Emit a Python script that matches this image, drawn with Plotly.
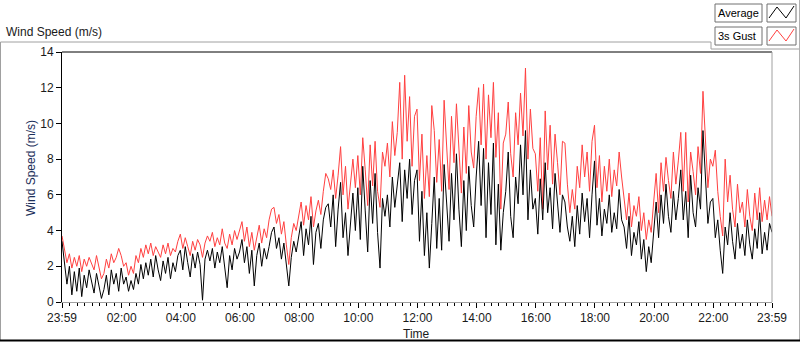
import pandas as pd
import plotly.graph_objects as go

# ---- data (5-minute readings, one row per hour) ----
avg_speed = [
    3.4, 2.3, 1.0, 2.0, 0.4, 1.7, 0.6, 1.9, 0.3, 1.5, 0.8, 1.8,
    1.2, 0.5, 1.6, 0.9, 0.2, 0.7, 1.5, 0.4, 1.8, 1.0, 1.6, 0.6,
    1.9, 1.0, 1.4, 0.6, 1.2, 0.7, 1.6, 1.0, 2.1, 1.3, 2.2, 1.5,
    2.4, 1.4, 2.6, 1.8, 1.2, 2.3, 1.6, 2.5, 1.3, 2.2, 1.7, 2.6,
    2.9, 1.8, 3.1, 2.2, 1.4, 2.7, 1.9, 2.8, 2.1, 0.1, 2.4, 2.9,
    2.3, 3.0, 1.9, 2.8, 2.2, 3.1, 2.0, 0.8, 2.6, 1.8, 3.0, 2.4,
    2.8, 3.5, 2.2, 3.1, 1.6, 2.9, 0.9, 2.6, 3.3, 2.0, 3.0, 2.4,
    3.1, 3.9, 4.2, 3.0, 3.6, 2.4, 3.3, 2.0, 0.9, 2.5, 3.4, 2.8,
    3.6, 4.5, 2.6, 4.1, 3.2, 4.8, 2.1, 3.9, 4.4, 3.0, 4.6, 5.3,
    5.5, 4.2, 6.0, 3.1, 5.2, 6.7, 3.6, 5.0, 2.6, 4.6, 6.1, 4.0,
    6.4, 3.5, 7.6, 5.1, 2.8, 6.8, 4.4, 7.2, 3.9, 1.9, 5.8, 4.8,
    6.0, 4.2, 7.0, 5.3, 6.6, 7.8, 4.5, 7.4, 5.8, 8.0, 4.9, 6.8,
    7.4, 3.4, 6.2, 2.6, 5.0, 1.9, 4.4, 7.0, 3.0, 5.8, 2.9, 7.7,
    5.6, 3.4, 7.2, 4.6, 8.3, 5.2, 3.1, 6.8, 4.0, 7.6, 5.4, 4.2,
    7.0, 9.0, 5.4, 8.6, 3.6, 7.8, 4.9, 8.9, 3.2, 6.6, 2.9, 5.0,
    6.2, 8.4, 4.8, 3.6, 7.0, 5.5, 8.8, 6.0, 9.6, 4.6, 7.4, 5.2,
    5.8, 3.8, 6.9, 4.6, 7.8, 5.0, 6.4, 4.1, 7.2, 5.4, 3.9, 6.0,
    5.6, 4.2, 3.4, 4.8, 3.1, 5.4, 3.8, 6.1, 4.5, 5.8, 3.6, 6.0,
    7.9, 4.3, 5.8, 3.7, 5.2, 4.4, 6.0, 3.9, 5.0, 4.1, 6.3, 4.6,
    4.2, 3.0, 4.8, 2.6, 3.9, 3.2, 4.5, 2.4, 3.5, 1.7, 3.1, 2.2,
    4.0, 5.6, 3.6, 6.0, 4.4, 6.6, 4.8, 3.9, 6.2, 4.6, 5.8, 7.4,
    4.6, 6.2, 3.6, 7.1, 5.0, 4.2, 6.4, 5.2, 9.6, 6.8, 4.4, 5.6,
    5.8, 3.6, 4.6, 2.9, 1.6, 4.2, 3.2, 5.0, 3.4, 2.4, 4.4, 3.0,
    3.8, 2.6, 4.6, 3.2, 2.4, 4.1, 3.0, 5.0, 2.7, 3.9, 2.9, 4.4,
    3.9,
]

gust_speed = [
    3.7, 2.9, 2.2, 2.7, 1.9, 2.5, 2.0, 2.6, 1.7, 2.4, 2.0, 2.5,
    2.2, 1.8, 2.6, 2.0, 1.3, 1.6, 2.4, 1.9, 2.7, 2.2, 2.5, 3.0,
    2.6, 2.0, 2.2, 1.5, 2.0, 1.6, 2.6, 2.2, 3.0, 2.5, 3.2, 2.7,
    3.3, 2.6, 3.1, 2.8, 2.5, 3.2, 2.7, 3.3, 2.6, 3.0, 2.8, 3.4,
    3.8, 3.0, 3.6, 3.1, 2.6, 3.4, 2.9, 3.5, 3.2, 2.5, 3.3, 3.7,
    3.4, 3.9, 3.1, 3.6, 3.2, 4.1, 3.3, 3.0, 3.8, 3.2, 4.0, 3.5,
    4.0, 4.5, 3.4, 4.2, 3.1, 3.9, 2.9, 3.7, 4.3, 3.3, 4.1, 3.6,
    4.6, 5.2, 5.3, 4.4, 4.9, 3.8, 4.5, 3.2, 2.1, 3.6, 4.4, 4.0,
    4.8, 5.6, 4.3, 5.4, 4.6, 5.9, 4.2, 5.1, 5.7, 4.9, 6.2, 7.2,
    6.9, 6.3, 7.4, 5.8, 7.1, 8.7, 6.0, 7.6, 5.2, 6.8, 8.0, 6.4,
    8.2, 6.0, 9.2, 7.4, 5.4, 8.8, 6.5, 9.0, 6.2, 5.3, 8.4, 7.6,
    8.9, 7.0, 10.1, 8.2, 9.5, 12.3, 8.0, 12.7, 9.0, 11.5, 7.6, 10.4,
    10.8, 6.8, 9.4, 5.8, 8.2, 5.9, 11.0, 9.6, 6.7, 9.1, 6.2, 11.3,
    8.6, 6.3, 10.4, 7.8, 11.1, 8.5, 6.1, 9.8, 7.2, 11.0, 8.4, 7.5,
    10.4, 12.0, 8.8, 12.2, 8.0, 11.6, 9.2, 12.3, 8.1, 10.6, 5.2, 8.9,
    9.4, 11.2, 8.3, 7.0, 10.6, 8.8, 11.7, 9.3, 13.1, 8.0, 10.8, 8.6,
    8.3, 6.2, 9.2, 5.2, 10.7, 7.4, 9.9, 6.6, 9.4, 7.8, 6.0, 9.0,
    8.9, 6.6, 5.0, 6.3, 5.2, 7.6, 6.4, 8.8, 7.0, 8.4, 6.2, 9.0,
    9.9, 6.4, 8.2, 5.6, 7.6, 6.2, 8.0, 5.9, 7.4, 6.5, 8.4, 7.0,
    5.8, 4.6, 6.1, 4.2, 5.4, 4.8, 5.9, 4.0, 5.0, 3.5, 4.6, 3.9,
    5.6, 7.2, 5.0, 7.8, 6.2, 8.1, 6.8, 5.8, 8.4, 6.6, 7.9, 9.5,
    6.2, 9.5, 5.6, 8.4, 7.3, 6.0, 8.7, 7.2, 11.8, 9.2, 6.4, 8.0,
    7.6, 8.5, 6.2, 4.8, 3.7, 8.0, 5.6, 7.1, 5.2, 4.2, 6.6, 5.0,
    5.6, 4.2, 6.3, 4.8, 4.0, 6.1, 4.6, 6.4, 4.5, 5.7, 4.6, 5.9,
    4.8,
]

start_time = "2024-01-01 23:59"
end_time = "2024-01-02 23:59"
tick_times = [
    "2024-01-01 23:59", "2024-01-02 02:00", "2024-01-02 04:00", "2024-01-02 06:00",
    "2024-01-02 08:00", "2024-01-02 10:00", "2024-01-02 12:00", "2024-01-02 14:00",
    "2024-01-02 16:00", "2024-01-02 18:00", "2024-01-02 20:00", "2024-01-02 22:00",
    "2024-01-02 23:59",
]
tick_labels = ["23:59", "02:00", "04:00", "06:00", "08:00", "10:00", "12:00",
               "14:00", "16:00", "18:00", "20:00", "22:00", "23:59"]
series_names = ["Average", "3s Gust"]
series_colors = ["#000000", "#ff4040"]

times = pd.date_range(start_time, periods=len(avg_speed), freq="5min")

W, H = 800, 342
def px(x):
    return x / W
def py(y):
    return 1 - y / H

FONT = "Liberation Sans"
TXT = "#1a1a1a"

fig = go.Figure()
fig.add_trace(go.Scatter(x=times, y=gust_speed, mode="lines", name=series_names[1],
                         line=dict(color=series_colors[1], width=1), showlegend=False))
fig.add_trace(go.Scatter(x=times, y=avg_speed, mode="lines", name=series_names[0],
                         line=dict(color=series_colors[0], width=1), showlegend=False))

fig.update_layout(
    width=W, height=H,
    margin=dict(l=0, r=0, t=0, b=0, autoexpand=False),
    paper_bgcolor="white", plot_bgcolor="white",
    font=dict(family=FONT, size=12, color=TXT),
    xaxis=dict(
        type="date", range=[start_time, end_time], automargin=False,
        domain=[px(62), px(772)],
        tickmode="array", tickvals=tick_times, ticktext=tick_labels,
        ticks="outside", ticklen=5, tickcolor="#000000", tickwidth=1,
        showgrid=False, zeroline=False,
        showline=True, linecolor="#a0a0a0", linewidth=1,
        tickfont=dict(family=FONT, size=12, color=TXT),
        minor=dict(ticks="outside", ticklen=3, tickcolor="#000000", tickwidth=1,
                   dtick=15 * 60 * 1000, tick0="2024-01-02 00:00", showgrid=False),
    ),
    yaxis=dict(
        range=[0, 14], dtick=2, automargin=False,
        domain=[py(302), py(52)],
        ticks="outside", ticklen=5, tickcolor="#000000", tickwidth=1,
        showgrid=False, zeroline=False,
        showline=True, linecolor="#000000", linewidth=1,
        tickfont=dict(family=FONT, size=12, color=TXT),
    ),
)

shapes = []
# plot frame: top black, right gray
shapes.append(dict(type="line", xref="paper", yref="paper", x0=px(62), x1=px(772),
                   y0=py(52), y1=py(52), line=dict(color="#000000", width=1)))
shapes.append(dict(type="line", xref="paper", yref="paper", x0=px(772), x1=px(772),
                   y0=py(52), y1=py(302), line=dict(color="#a0a0a0", width=1)))
# outer panel
shapes.append(dict(type="path", xref="paper", yref="paper",
                   path=f"M {px(0.5)},{py(340)} L {px(0.5)},{py(42)} L {px(711)},{py(42)} "
                        f"L {px(711)},{py(49)} L {px(799)},{py(49)}",
                   line=dict(color="#a0a0a0", width=1)))
shapes.append(dict(type="line", xref="paper", yref="paper", x0=px(799.5), x1=px(799.5),
                   y0=py(0), y1=py(340), line=dict(color="#b0b0b0", width=1)))
shapes.append(dict(type="line", xref="paper", yref="paper", x0=px(0), x1=px(800),
                   y0=py(340.5), y1=py(340.5), line=dict(color="#000000", width=2)))

# legend boxes
legend_rows = [(4, 22), (27, 45)]
for (y0, y1), name, col in zip(legend_rows, series_names, series_colors):
    shapes.append(dict(type="rect", xref="paper", yref="paper", x0=px(715), x1=px(762),
                       y0=py(y1), y1=py(y0), line=dict(color="#707070", width=1),
                       fillcolor="white"))
    shapes.append(dict(type="rect", xref="paper", yref="paper", x0=px(767), x1=px(796),
                       y0=py(y1), y1=py(y0), line=dict(color="#707070", width=1),
                       fillcolor="white"))
    zig = [(769, y1 - 4), (777, y0 + 3), (786, y1 - 4), (794, y0 + 2)]
    path = "M " + " L ".join(f"{px(a)},{py(b)}" for a, b in zig)
    shapes.append(dict(type="path", xref="paper", yref="paper", path=path,
                       line=dict(color=col, width=1)))
fig.update_layout(shapes=shapes)

annotations = [
    dict(text="Wind Speed (m/s)", x=px(4), y=py(32), xref="paper", yref="paper",
         xanchor="left", yanchor="middle", showarrow=False,
         font=dict(family=FONT, size=12, color=TXT)),
    dict(text="Wind Speed (m/s)", x=px(31), y=py(168), xref="paper", yref="paper",
         xanchor="center", yanchor="middle", showarrow=False, textangle=-90,
         font=dict(family=FONT, size=12, color="#1c2f5a")),
    dict(text="Time", x=px(416), y=py(334), xref="paper", yref="paper",
         xanchor="center", yanchor="middle", showarrow=False,
         font=dict(family=FONT, size=12, color=TXT)),
]
for (y0, y1), name in zip(legend_rows, series_names):
    annotations.append(dict(text=name, x=px(716), y=py((y0 + y1) / 2), xref="paper", yref="paper",
                            xanchor="left", yanchor="middle", showarrow=False,
                            font=dict(family=FONT, size=11, color="#000000")))
fig.update_layout(annotations=annotations)

fig.write_html(
    "out.html",
    config={"displayModeBar": False},
    post_script="document.body.style.margin='0';document.body.style.overflow='hidden';",
)
